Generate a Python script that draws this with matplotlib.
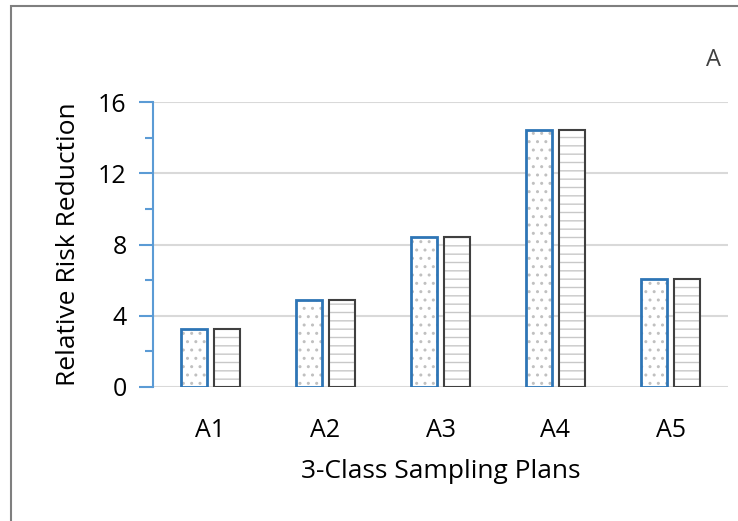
import matplotlib
matplotlib.use("Agg")
import matplotlib.pyplot as plt
import numpy as np
from matplotlib.patches import Rectangle
from matplotlib.ticker import MultipleLocator

plt.rcParams['font.family'] = ['Open Sans', 'DejaVu Sans']
plt.rcParams['hatch.linewidth'] = 1.0

plans = ["A1", "A2", "A3", "A4", "A5"]
series_dotted = [3.26, 4.89, 8.40, 14.44, 6.05]
series_lined = [3.26, 4.89, 8.40, 14.44, 6.05]

fig = plt.figure(figsize=(7.38, 5.21), dpi=100)
ax = fig.add_axes([153 / 738, 1 - 387 / 521, 575 / 738, 285 / 521])

# outer frame (cropped at right/bottom)
fig.patches.append(Rectangle((11 / 738, -0.1), 1.2, 1 - 6 / 521 + 0.1,
                             transform=fig.transFigure, fill=False,
                             edgecolor="#7f7f7f", linewidth=1.5))

x = np.arange(len(plans))
w = 0.225
off = 0.14

# hatch layers (light grey), then outlines on top
ax.bar(x - off, series_dotted, w, facecolor="white", edgecolor="#c0c0c0",
       linewidth=0, hatch="..", zorder=3)
ax.bar(x + off, series_lined, w, facecolor="white", edgecolor="#c8c8c8",
       linewidth=0, hatch="--", zorder=3)
ax.bar(x - off, series_dotted, w, fill=False, edgecolor="#2E75B6",
       linewidth=2.0, zorder=4)
ax.bar(x + off, series_lined, w, fill=False, edgecolor="#404040",
       linewidth=1.5, zorder=4)

ax.set_xlim(-0.5, 4.5)
ax.set_ylim(0, 16)
ax.set_xticks(x)
ax.set_xticklabels(plans, fontsize=18)
ax.yaxis.set_major_locator(MultipleLocator(4))
ax.yaxis.set_minor_locator(MultipleLocator(2))
ax.tick_params(axis="y", which="major", length=10, width=1.5, color="#5B9BD5",
               labelsize=18, pad=9)
ax.tick_params(axis="y", which="minor", length=6, width=1.5, color="#5B9BD5")
ax.tick_params(axis="x", length=0, pad=22)

for s in ["top", "right", "bottom"]:
    ax.spines[s].set_visible(False)
ax.spines["left"].set_color("#5B9BD5")
ax.spines["left"].set_linewidth(1.5)

ax.yaxis.grid(True, which="major", color="#d9d9d9", linewidth=1.5, zorder=0)
ax.set_axisbelow(True)

ax.set_ylabel("Relative Risk Reduction", fontsize=19, labelpad=12)
ax.set_xlabel("3-Class Sampling Plans", fontsize=19, labelpad=12)

fig.text(713 / 738, 1 - 60 / 521, "A", fontsize=17, color="#404040",
         ha="center", va="center")

fig.savefig("out.png", dpi=100)
